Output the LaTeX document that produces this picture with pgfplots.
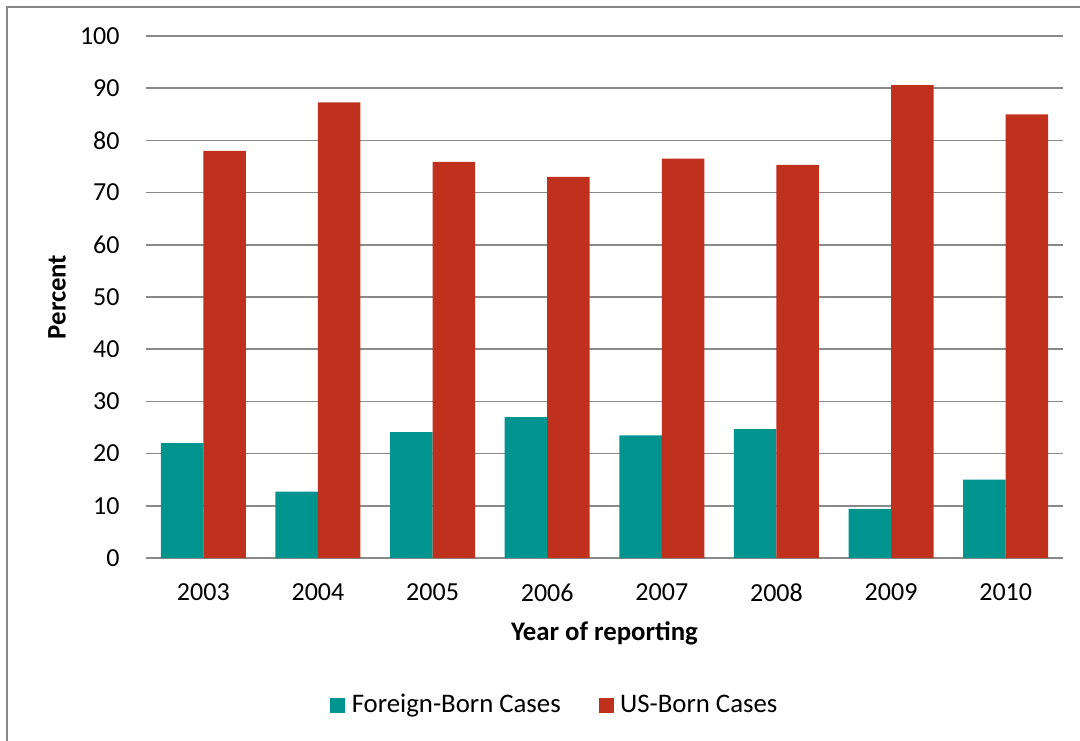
\documentclass[border=0pt]{standalone}
\usepackage{fontspec}
\setmainfont{Carlito}
\usepackage{pgfplots}
\pgfplotsset{compat=1.18}
\definecolor{teal1}{RGB}{0,148,143}
\definecolor{red1}{RGB}{192,49,29}
\definecolor{grid1}{RGB}{137,137,137}
\begin{document}
\begin{tikzpicture}
\useasboundingbox (-73pt,-91pt) rectangle (467pt,279pt);
\draw[grid1, line width=1pt] (-69.5pt,-95pt) -- (-69.5pt,275.5pt) -- (470pt,275.5pt);
\begin{axis}[
  at={(0,0)}, anchor=south west,
  width=458.5pt, height=261pt, scale only axis,
  ybar, bar width=21.25pt,
  xmin=-0.5, xmax=7.5, ymin=0, ymax=100,
  xtick={0,...,7},
  xticklabels={2003,2004,2005,2006,2007,2008,2009,2010},
  ytick={0,10,...,100},
  major tick length=0pt,
  axis line style={draw=none},
  ymajorgrids, grid style={grid1, line width=0.8pt},
  font=\fontsize{13pt}{15pt}\selectfont,
  /pgf/number format/assume math mode=true,
  yticklabel style={anchor=east, inner sep=0pt, xshift=-13pt},
  xticklabel style={anchor=north, inner sep=0pt, yshift=-12.8pt},
  xlabel={\textbf{Year of reporting}},
  ylabel={\textbf{Percent}},
  xlabel style={at={(axis description cs:0.5,0)}, anchor=center, inner sep=0pt, yshift=-37.5pt, font=\fontsize{13.4pt}{15pt}\selectfont},
  ylabel style={at={(axis description cs:0,0.5)}, anchor=center, inner sep=0pt, yshift=44.5pt, font=\fontsize{13.4pt}{15pt}\selectfont},
  legend style={at={(0.447,-0.2816)}, anchor=center, draw=none, legend columns=2,
    /tikz/every odd column/.append style={column sep=1.2pt},
    /tikz/every even column/.append style={column sep=17pt}, font=\fontsize{13.4pt}{15pt}\selectfont},
  legend image code/.code={\fill[#1] (0pt,-3.75pt) rectangle (7.5pt,3.75pt);},
]
\addplot[fill=teal1, draw=none, bar shift=-10.625pt] coordinates {(0,22.0) (1,12.7) (2,24.1) (3,27.0) (4,23.5) (5,24.7) (6,9.4) (7,15.0)};
\addplot[fill=red1, draw=none, bar shift=10.625pt] coordinates {(0,78.0) (1,87.3) (2,75.9) (3,73.0) (4,76.5) (5,75.3) (6,90.6) (7,85.0)};
\legend{Foreign-Born Cases, US-Born Cases}
\end{axis}
\end{tikzpicture}
\end{document}
